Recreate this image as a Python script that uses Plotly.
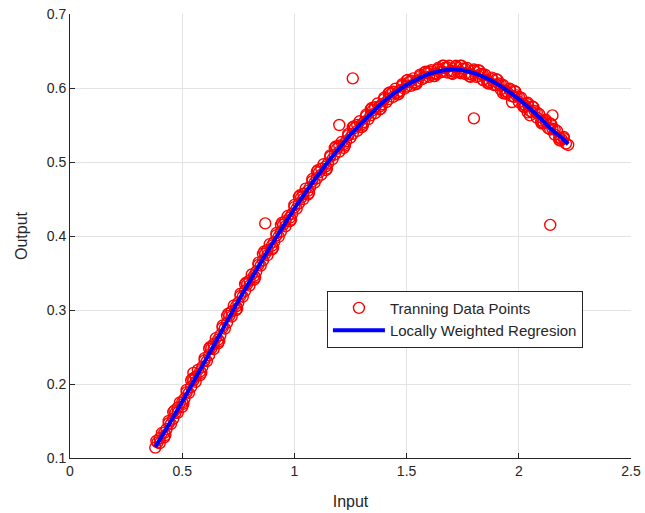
import plotly.graph_objects as go

# Regression curve
line_x = [0.38, 0.45, 0.50, 0.55, 0.60, 0.65, 0.70, 0.75, 0.80, 0.85, 0.90, 0.95, 1.00,
          1.05, 1.10, 1.15, 1.20, 1.25, 1.30, 1.35, 1.40, 1.45, 1.50, 1.55, 1.60, 1.65,
          1.70, 1.75, 1.80, 1.85, 1.90, 1.95, 2.00, 2.05, 2.10, 2.15, 2.20, 2.22]
line_y = [0.115, 0.150, 0.176, 0.203, 0.230, 0.257, 0.285, 0.312, 0.338, 0.364, 0.389, 0.413, 0.437,
          0.459, 0.480, 0.500, 0.519, 0.537, 0.553, 0.568, 0.582, 0.594, 0.604, 0.612, 0.619, 0.623,
          0.625, 0.624, 0.620, 0.614, 0.606, 0.596, 0.585, 0.572, 0.558, 0.543, 0.530, 0.524]

# Training data points
pts_x = [0.38, 0.40, 0.42, 0.44, 0.46, 0.48, 0.50, 0.52, 0.54, 0.56, 0.58, 0.60, 0.62, 0.64, 0.66,
         0.68, 0.70, 0.72, 0.74, 0.76, 0.78, 0.80, 0.82, 0.84, 0.86, 0.88, 0.90, 0.92, 0.94, 0.96,
         0.98, 1.00, 1.02, 1.04, 1.06, 1.08, 1.10, 1.12, 1.14, 1.16, 1.18, 1.20, 1.22, 1.24, 1.26,
         1.28, 1.30, 1.32, 1.34, 1.36, 1.38, 1.40, 1.42, 1.44, 1.46, 1.48, 1.50, 1.52, 1.54, 1.56,
         1.58, 1.60, 1.62, 1.64, 1.66, 1.68, 1.70, 1.72, 1.74, 1.76, 1.78, 1.80, 1.82, 1.84, 1.86,
         1.88, 1.90, 1.92, 1.94, 1.96, 1.98, 2.00, 2.02, 2.04, 2.06, 2.08, 2.10, 2.12, 2.14, 2.16,
         2.18, 2.20, 2.22]
pts_y = [0.114, 0.127, 0.134, 0.147, 0.153, 0.168, 0.175, 0.189, 0.196, 0.210, 0.217, 0.232, 0.239, 0.254, 0.260,
         0.276, 0.283, 0.298, 0.305, 0.319, 0.326, 0.340, 0.346, 0.361, 0.367, 0.381, 0.387, 0.401, 0.406, 0.420,
         0.425, 0.439, 0.444, 0.457, 0.461, 0.474, 0.478, 0.491, 0.494, 0.507, 0.510, 0.522, 0.524, 0.536, 0.538,
         0.550, 0.551, 0.562, 0.563, 0.574, 0.575, 0.585, 0.585, 0.595, 0.594, 0.603, 0.602, 0.610, 0.608, 0.616,
         0.614, 0.622, 0.619, 0.625, 0.622, 0.628, 0.623, 0.628, 0.622, 0.626, 0.619, 0.623, 0.616, 0.618, 0.610,
         0.612, 0.604, 0.605, 0.596, 0.597, 0.588, 0.588, 0.578, 0.578, 0.567, 0.567, 0.556, 0.555, 0.544, 0.544,
         0.533, 0.532, 0.523]
pts2_x = [0.39, 0.43, 0.47, 0.51, 0.55, 0.59, 0.63, 0.67, 0.71, 0.75, 0.79, 0.83, 0.87, 0.91, 0.95,
          0.99, 1.03, 1.07, 1.11, 1.15, 1.19, 1.23, 1.27, 1.31, 1.35, 1.39, 1.43, 1.47, 1.51, 1.55,
          1.59, 1.63, 1.67, 1.71, 1.75, 1.79, 1.83, 1.87, 1.91, 1.95, 1.99, 2.03, 2.07, 2.11, 2.15, 2.19]
pts2_y = [0.121, 0.139, 0.161, 0.180, 0.205, 0.223, 0.248, 0.266, 0.292, 0.310, 0.335, 0.352, 0.376, 0.392, 0.415,
          0.430, 0.452, 0.466, 0.486, 0.498, 0.518, 0.528, 0.546, 0.554, 0.570, 0.578, 0.592, 0.596, 0.608, 0.610,
          0.620, 0.619, 0.627, 0.622, 0.626, 0.618, 0.619, 0.608, 0.606, 0.594, 0.590, 0.576, 0.569, 0.553, 0.545, 0.531]
pts3_x = [0.41, 0.45, 0.49, 0.53, 0.57, 0.61, 0.65, 0.69, 0.73, 0.77, 0.81, 0.85, 0.89, 0.93, 0.97,
          1.01, 1.05, 1.09, 1.13, 1.17, 1.21, 1.25, 1.29, 1.33, 1.37, 1.41, 1.45, 1.49, 1.53, 1.57,
          1.61, 1.65, 1.69, 1.73, 1.77, 1.81, 1.85, 1.89, 1.93, 1.97, 2.01, 2.05, 2.09, 2.13, 2.17, 2.21]
pts3_y = [0.134, 0.146, 0.175, 0.188, 0.219, 0.231, 0.262, 0.275, 0.306, 0.318, 0.348, 0.360, 0.389, 0.399, 0.427,
          0.437, 0.464, 0.472, 0.497, 0.504, 0.527, 0.533, 0.555, 0.558, 0.579, 0.581, 0.599, 0.599, 0.613, 0.612,
          0.624, 0.621, 0.630, 0.622, 0.627, 0.615, 0.618, 0.604, 0.604, 0.589, 0.587, 0.569, 0.565, 0.546, 0.542, 0.525]
pts4_x = [0.40, 0.44, 0.48, 0.52, 0.56, 0.60, 0.64, 0.68, 0.72, 0.76, 0.80, 0.84, 0.88, 0.92, 0.96,
          1.00, 1.04, 1.08, 1.12, 1.16, 1.20, 1.24, 1.28, 1.32, 1.36, 1.40, 1.44, 1.48, 1.52, 1.56,
          1.60, 1.64, 1.68, 1.72, 1.76, 1.80, 1.84, 1.88, 1.92, 1.96, 2.00, 2.04, 2.08, 2.12, 2.16, 2.20]
pts4_y = [0.120, 0.150, 0.161, 0.192, 0.203, 0.235, 0.247, 0.279, 0.291, 0.322, 0.333, 0.364, 0.374, 0.404, 0.413,
          0.442, 0.450, 0.477, 0.483, 0.509, 0.514, 0.538, 0.542, 0.564, 0.566, 0.587, 0.588, 0.605, 0.603, 0.618,
          0.615, 0.627, 0.621, 0.630, 0.619, 0.625, 0.611, 0.614, 0.598, 0.599, 0.581, 0.580, 0.560, 0.557, 0.537, 0.534]
pts5_x = [0.42, 0.46, 0.50, 0.54, 0.58, 0.62, 0.66, 0.70, 0.74, 0.78, 0.82, 0.86, 0.90, 0.94, 0.98,
          1.02, 1.06, 1.10, 1.14, 1.18, 1.22, 1.26, 1.30, 1.34, 1.38, 1.42, 1.46, 1.50, 1.54, 1.58,
          1.62, 1.66, 1.70, 1.74, 1.78, 1.82, 1.86, 1.90, 1.94, 1.98, 2.02, 2.06, 2.10, 2.14, 2.18]
pts5_y = [0.128, 0.162, 0.169, 0.205, 0.212, 0.248, 0.255, 0.292, 0.300, 0.335, 0.341, 0.376, 0.382, 0.415, 0.420,
          0.453, 0.456, 0.487, 0.489, 0.519, 0.519, 0.547, 0.547, 0.571, 0.571, 0.593, 0.591, 0.610, 0.605, 0.621,
          0.616, 0.630, 0.620, 0.630, 0.616, 0.624, 0.607, 0.612, 0.593, 0.596, 0.575, 0.575, 0.553, 0.552, 0.530]
pts6_x = [0.385, 0.425, 0.465, 0.505, 0.545, 0.585, 0.625, 0.665, 0.705, 0.745, 0.785, 0.825, 0.865, 0.905, 0.945,
          0.985, 1.025, 1.065, 1.105, 1.145, 1.185, 1.225, 1.265, 1.305, 1.345, 1.385, 1.425, 1.465, 1.505, 1.545,
          1.585, 1.625, 1.665, 1.705, 1.745, 1.785, 1.825, 1.865, 1.905, 1.945, 1.985, 2.025, 2.065, 2.105, 2.145, 2.185]
pts6_y = [0.123, 0.131, 0.164, 0.173, 0.207, 0.215, 0.250, 0.258, 0.295, 0.302, 0.337, 0.344, 0.379, 0.384, 0.418,
          0.422, 0.455, 0.458, 0.489, 0.491, 0.521, 0.522, 0.548, 0.549, 0.573, 0.572, 0.594, 0.592, 0.611, 0.606,
          0.622, 0.616, 0.630, 0.619, 0.630, 0.615, 0.623, 0.606, 0.611, 0.592, 0.595, 0.574, 0.574, 0.552, 0.551, 0.529]
out_x = [0.55, 0.87, 1.20, 1.26, 1.63, 1.74, 1.80, 1.84, 1.93, 1.97, 2.04, 2.05, 2.14, 2.15]
out_y = [0.215, 0.417, 0.550, 0.613, 0.620, 0.620, 0.559, 0.611, 0.593, 0.581, 0.567, 0.563, 0.415, 0.563]

all_x = pts_x + pts2_x + pts3_x + pts4_x + pts5_x + pts6_x + out_x
all_y = pts_y + pts2_y + pts3_y + pts4_y + pts5_y + pts6_y + out_y

x_ticks = [0, 0.5, 1, 1.5, 2, 2.5]
x_labels = ["0", "0.5", "1", "1.5", "2", "2.5"]
y_ticks = [0.1, 0.2, 0.3, 0.4, 0.5, 0.6, 0.7]
y_labels = ["0.1", "0.2", "0.3", "0.4", "0.5", "0.6", "0.7"]

FONT = "Liberation Sans, Arial, Helvetica, sans-serif"

fig = go.Figure()
fig.add_trace(go.Scatter(
    x=all_x, y=all_y, mode="markers", name="Tranning Data Points",
    marker=dict(symbol="circle-open", size=11, color="#ff0000", line=dict(width=1.4, color="#ff0000")),
))
fig.add_trace(go.Scatter(
    x=line_x, y=line_y, mode="lines", name="Locally Weighted Regresion",
    line=dict(color="#0000ff", width=4, shape="spline"),
))

axis_common = dict(
    showgrid=True, gridcolor="#e3e3e3", gridwidth=1,
    showline=True, linecolor="#262626", linewidth=1,
    ticks="inside", ticklen=5, tickcolor="#262626",
    tickfont=dict(family=FONT, size=14, color="#262626"),
    zeroline=False, mirror=False, automargin=False,
)
fig.update_xaxes(range=[0, 2.5], tickvals=x_ticks, ticktext=x_labels,
                 title=dict(text="Input", font=dict(family=FONT, size=16, color="#262626"), standoff=18),
                 **axis_common)
fig.update_yaxes(range=[0.1, 0.7], tickvals=y_ticks, ticktext=y_labels,
                 title=dict(text="Output", font=dict(family=FONT, size=16, color="#262626"), standoff=15),
                 **axis_common)

fig.update_layout(
    width=645, height=513,
    margin=dict(l=70, r=14, t=14, b=55),
    paper_bgcolor="white", plot_bgcolor="white",
    font=dict(family=FONT, size=14, color="#262626"),
    legend=dict(
        x=0.458, y=0.377, xanchor="left", yanchor="top",
        bgcolor="white", bordercolor="#262626", borderwidth=1,
        font=dict(family=FONT, size=15, color="#262626"),
        itemwidth=52, tracegroupgap=0,
    ),
)

fig.write_html("out.html")
